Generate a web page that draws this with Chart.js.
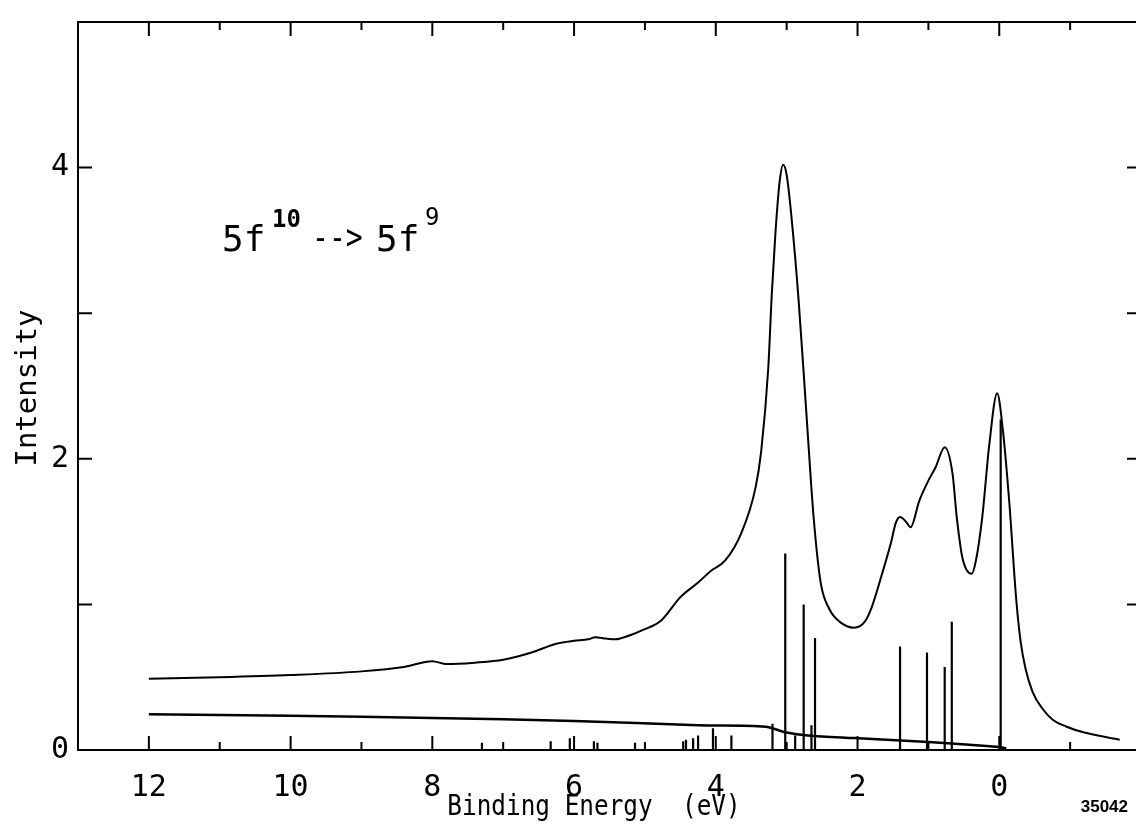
<!DOCTYPE html>
<html>
<head>
<meta charset="utf-8">
<script src="https://cdn.jsdelivr.net/npm/chart.js@4/dist/chart.umd.min.js"></script>
<style>
  html, body { margin: 0; padding: 0; background: #fff; overflow: hidden; }
  #wrap { width: 1136px; height: 831px; overflow: hidden; }
</style>
</head>
<body>
<div id="wrap"><canvas id="spec" width="1153" height="831"></canvas></div>
<script>

// spectrum (binding energy eV, intensity)
const specE = [12, 11, 10, 9, 8.4, 8.0, 7.8, 7.4, 7.0, 6.6, 6.25, 6.0, 5.8, 5.7, 5.55, 5.42, 5.2, 5.05,
  4.77, 4.5, 4.25, 4.07, 3.87, 3.64, 3.44, 3.36, 3.26, 3.21, 3.16, 3.1, 3.05, 3.0, 2.93, 2.83, 2.72,
  2.62, 2.52, 2.4, 2.25, 2.05, 1.9, 1.8, 1.66, 1.53, 1.46, 1.4, 1.32, 1.25, 1.13, 1.0, 0.9, 0.77,
  0.66, 0.6, 0.52, 0.39, 0.33, 0.24, 0.14, 0.03, -0.05, -0.14, -0.24, -0.3, -0.37, -0.47, -0.6, -0.75,
  -0.95, -1.2, -1.7];
const specI = [0.49, 0.5, 0.515, 0.54, 0.57, 0.61, 0.59, 0.6, 0.62, 0.67, 0.73, 0.75, 0.76, 0.775, 0.765, 0.76, 0.79, 0.82,
  0.89, 1.05, 1.15, 1.23, 1.3, 1.49, 1.8, 2.05, 2.62, 3.13, 3.54, 3.9, 4.02, 3.95, 3.65, 3.08, 2.3,
  1.6, 1.15, 0.97, 0.88, 0.84, 0.88, 0.98, 1.2, 1.42, 1.56, 1.6, 1.57, 1.53, 1.71, 1.85, 1.94, 2.08,
  1.9, 1.6, 1.32, 1.21, 1.3, 1.6, 2.1, 2.45, 2.2, 1.71, 1.03, 0.75, 0.56, 0.4, 0.29, 0.21,
  0.16, 0.12, 0.07];

// background curve
const bgE = [12, 10, 8, 6, 4.25, 3.3, 3.0, 2.7, 2.05, 1.0, 0.0, -0.1];
const bgI = [0.245, 0.235, 0.22, 0.2, 0.17, 0.16, 0.12, 0.1, 0.082, 0.055, 0.02, 0.01];

// multiplet lines (stick spectrum)
const stickE = [7.3, 6.33, 6.06, 5.72, 5.67, 5.14, 4.46, 4.42, 4.32, 4.25, 4.04, 3.78, 3.2,
  3.02, 2.88, 2.76, 2.65, 2.6, 1.4, 1.02, 0.77, 0.67, -0.02];
const stickI = [0.05, 0.06, 0.08, 0.06, 0.05, 0.05, 0.06, 0.07, 0.08, 0.1, 0.15, 0.1, 0.18,
  1.35, 0.1, 1.0, 0.17, 0.77, 0.71, 0.67, 0.57, 0.88, 2.27];

const xTicksLabelled = [12, 10, 8, 6, 4, 2, 0];
const yTicksLabelled = [0, 2, 4];

const mono = "'DejaVu Sans Mono', 'Liberation Mono', monospace";

const specData = specE.map((e, i) => ({ x: e, y: specI[i] }));
const bgData = bgE.map((e, i) => ({ x: e, y: bgI[i] }));
const stickData = [];
stickE.forEach((e, i) => {
  stickData.push({ x: e, y: 0 });
  stickData.push({ x: e, y: stickI[i] });
  stickData.push({ x: e, y: null });
});

// condensed text, the plotter font is narrow
function narrowText(ctx, txt, x, y, sx) {
  ctx.save();
  ctx.translate(x, y);
  ctx.scale(sx, 1);
  ctx.fillText(txt, 0, 0);
  ctx.restore();
}

// frame, inward ticks and the text
const framePlugin = {
  id: 'frame',
  afterDraw(chart) {
    const ctx = chart.ctx;
    const a = chart.chartArea;
    const xs = chart.scales.x, ys = chart.scales.y;
    ctx.save();
    ctx.strokeStyle = '#000';
    ctx.lineWidth = 2;
    ctx.strokeRect(a.left, a.top, a.right - a.left, a.bottom - a.top);

    ctx.beginPath();
    xs.ticks.forEach(t => {
      const px = xs.getPixelForValue(t.value);
      const len = t.value % 2 === 0 ? 14 : 8;
      ctx.moveTo(px, a.bottom); ctx.lineTo(px, a.bottom - len);
      ctx.moveTo(px, a.top); ctx.lineTo(px, a.top + len);
    });
    ys.ticks.forEach(t => {
      if (t.value <= 0 || t.value >= 5) return;
      const py = ys.getPixelForValue(t.value);
      ctx.moveTo(a.left, py); ctx.lineTo(a.left + 14, py);
      ctx.moveTo(a.right, py); ctx.lineTo(a.right - 14, py);
    });
    ctx.stroke();

    ctx.fillStyle = '#000';
    // axis titles
    ctx.font = '29px ' + mono;
    ctx.textAlign = 'center';
    ctx.textBaseline = 'alphabetic';
    narrowText(ctx, 'Binding Energy  (eV)', 594, 815, 0.84);
    ctx.save();
    ctx.translate(36, 388);
    ctx.rotate(-Math.PI / 2);
    ctx.fillText('Intensity', 0, 0);
    ctx.restore();

    // transition label 5f10 --> 5f9
    ctx.textAlign = 'left';
    const base = 251;
    ctx.font = '36px ' + mono;
    ctx.fillText('5f', 222, base);
    narrowText(ctx, '-->', 312, base - 2, 0.78);
    ctx.fillText('5f', 376, base);
    ctx.font = 'bold 24px ' + mono;
    ctx.fillText('10', 272, base - 24);
    ctx.font = '24px ' + mono;
    ctx.fillText('9', 425, base - 26);

    // figure number
    ctx.font = 'bold 17px "Liberation Sans", Arial, sans-serif';
    ctx.textAlign = 'right';
    ctx.fillText('35042', 1128, 812);
    ctx.restore();
  }
};

const config = {
  type: 'line',
  data: {
    datasets: [
      {
        label: 'spectrum',
        data: specData,
        borderColor: '#000',
        borderWidth: 2,
        pointRadius: 0,
        cubicInterpolationMode: 'monotone',
        fill: false
      },
      {
        label: 'background',
        data: bgData,
        borderColor: '#000',
        borderWidth: 2.5,
        pointRadius: 0,
        tension: 0.3,
        fill: false
      },
      {
        label: 'lines',
        data: stickData,
        borderColor: '#000',
        borderWidth: 2.2,
        pointRadius: 0,
        tension: 0,
        spanGaps: false,
        fill: false
      }
    ]
  },
  options: {
    responsive: false,
    animation: false,
    layout: { padding: { top: 22, right: 4, left: 0, bottom: 0 } },
    plugins: { legend: { display: false }, tooltip: { enabled: false } },
    scales: {
      x: {
        type: 'linear',
        reverse: true,
        min: -2,
        max: 13,
        grid: { display: false },
        border: { display: false },
        afterFit: s => { s.height = 81; },
        ticks: {
          stepSize: 1,
          autoSkip: false,
          maxRotation: 0,
          padding: 12,
          color: '#000',
          font: { family: mono, size: 30 },
          callback: v => xTicksLabelled.includes(v) ? String(v) : ''
        }
      },
      y: {
        type: 'linear',
        min: 0,
        max: 5,
        grid: { display: false },
        border: { display: false },
        afterFit: s => { s.width = 78; },
        ticks: {
          stepSize: 1,
          padding: 1,
          color: '#000',
          font: { family: mono, size: 30 },
          callback: v => yTicksLabelled.includes(v) ? String(v) : ''
        }
      }
    }
  },
  plugins: [framePlugin]
};

const spectrumChart = new Chart(document.getElementById('spec'), config);
</script>
</body>
</html>
